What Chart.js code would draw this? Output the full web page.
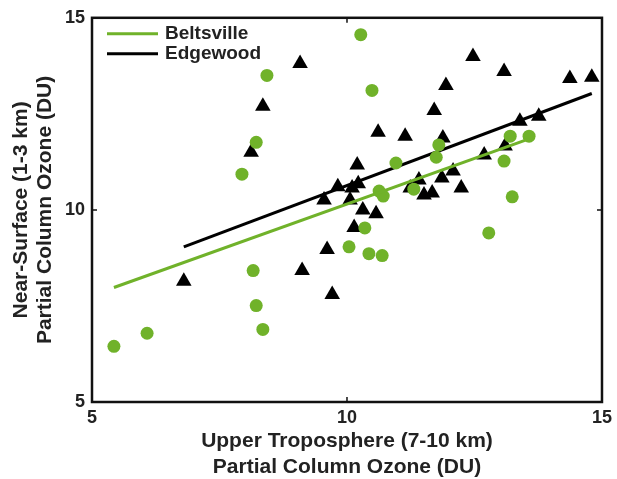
<!DOCTYPE html>
<html lang="en">
<head>
  <meta charset="UTF-8">
  <title>Near-Surface vs Upper Troposphere Ozone</title>
  <script src="https://cdn.jsdelivr.net/npm/chart.js"></script>
  <style>
    html, body { margin: 0; padding: 0; background: #fff; }
    #wrap { width: 617px; height: 479px; }
  </style>
</head>
<body>
  <div id="wrap"><canvas id="ozoneChart" width="617" height="479"></canvas></div>

  <script>
    // Beltsville (green circles)
    const beltsvilleX = [5.43, 6.08, 7.94, 8.22, 8.43, 8.16, 8.22, 8.35, 10.27, 10.49, 10.04, 10.35, 10.43,
      10.69, 10.63, 10.71, 10.96, 11.31, 11.80, 11.75, 13.20, 13.57, 13.08, 13.24, 12.78];
    const beltsvilleY = [6.45, 6.79, 10.93, 11.76, 13.50, 8.42, 7.51, 6.89, 14.56, 13.11, 9.04, 9.53, 8.86,
      8.81, 10.49, 10.36, 11.22, 10.54, 11.69, 11.37, 11.92, 11.92, 11.27, 10.34, 9.40];

    // Edgewood (black triangles)
    const edgewoodX = [6.80, 8.12, 8.35, 9.08, 9.12, 9.61, 9.71, 9.55, 9.82, 10.06, 10.10, 10.22, 10.20,
      10.31, 10.57, 10.14, 10.61, 11.14, 11.41, 11.24, 11.51, 11.67, 11.86, 12.08, 12.24, 11.71, 11.88,
      11.94, 12.47, 13.08, 12.69, 13.10, 13.39, 13.76, 14.37, 14.80];
    const edgewoodY = [8.14, 11.50, 12.70, 13.81, 8.42, 8.97, 7.80, 10.26, 10.60, 10.26, 10.57, 10.68, 11.17,
      10.00, 9.90, 9.54, 12.02, 11.92, 10.78, 10.57, 10.39, 10.44, 10.83, 11.01, 10.57, 12.59, 11.87,
      13.24, 13.99, 13.60, 11.43, 11.66, 12.31, 12.44, 13.42, 13.45];

    // fit lines (end points)
    const beltsvilleFitX = [5.43, 13.57];
    const beltsvilleFitY = [7.98, 11.85];
    const edgewoodFitX = [6.80, 14.80];
    const edgewoodFitY = [9.04, 13.03];

    const tickValues = [5, 10, 15];
    const seriesNames = ['Beltsville', 'Edgewood'];

    const GREEN = '#70b22a';
    const BLACK = '#000000';
    const TEXT = '#222222';
    const FONT = "'Liberation Sans', Arial, Helvetica, sans-serif";

    const toPoints = (xs, ys) => xs.map((x, i) => ({ x: x, y: ys[i] }));

    // frame, inward ticks and the in-plot legend
    const framePlugin = {
      id: 'frame',
      afterDatasetsDraw(chart) {
        const { ctx, chartArea: a, scales } = chart;
        ctx.save();
        ctx.strokeStyle = '#111';
        ctx.lineWidth = 2.5;
        ctx.strokeRect(a.left, a.top, a.right - a.left, a.bottom - a.top);
        ctx.lineWidth = 1.5;
        tickValues.forEach(v => {
          const px = scales.x.getPixelForValue(v);
          const py = scales.y.getPixelForValue(v);
          ctx.beginPath();
          ctx.moveTo(px, a.bottom); ctx.lineTo(px, a.bottom - 5);
          ctx.moveTo(px, a.top); ctx.lineTo(px, a.top + 5);
          ctx.moveTo(a.left, py); ctx.lineTo(a.left + 5, py);
          ctx.moveTo(a.right, py); ctx.lineTo(a.right - 5, py);
          ctx.stroke();
        });

        // legend
        const colors = [GREEN, BLACK];
        ctx.font = 'bold 19px ' + FONT;
        ctx.textBaseline = 'middle';
        ctx.fillStyle = TEXT;
        seriesNames.forEach((name, i) => {
          const y = a.top + 16 + i * 20;
          ctx.strokeStyle = colors[i];
          ctx.lineWidth = 3;
          ctx.beginPath();
          ctx.moveTo(a.left + 15, y);
          ctx.lineTo(a.left + 66, y);
          ctx.stroke();
          ctx.fillText(name, a.left + 73, y);
        });
        ctx.restore();
      }
    };

    const ctx = document.getElementById('ozoneChart').getContext('2d');
    new Chart(ctx, {
      type: 'scatter',
      data: {
        datasets: [
          {
            type: 'line',
            label: 'Beltsville fit',
            data: toPoints(beltsvilleFitX, beltsvilleFitY),
            borderColor: GREEN,
            borderWidth: 3,
            pointRadius: 0,
            fill: false
          },
          {
            label: 'Beltsville',
            data: toPoints(beltsvilleX, beltsvilleY),
            backgroundColor: GREEN,
            borderColor: GREEN,
            borderWidth: 0,
            pointStyle: 'circle',
            pointRadius: 6.5
          },
          {
            type: 'line',
            label: 'Edgewood fit',
            data: toPoints(edgewoodFitX, edgewoodFitY),
            borderColor: BLACK,
            borderWidth: 3,
            pointRadius: 0,
            fill: false
          },
          {
            label: 'Edgewood',
            data: toPoints(edgewoodX, edgewoodY),
            backgroundColor: BLACK,
            borderColor: BLACK,
            borderWidth: 0,
            pointStyle: 'triangle',
            pointRadius: 9
          }
        ]
      },
      options: {
        responsive: false,
        animation: false,
        layout: { padding: { top: 16, right: 15, left: 0, bottom: 0 }, autoPadding: false },
        plugins: {
          legend: { display: false },
          tooltip: { enabled: false }
        },
        scales: {
          x: {
            type: 'linear',
            min: 5,
            max: 15,
            grid: { display: false, drawTicks: false },
            border: { display: false },
            ticks: {
              stepSize: 5,
              padding: 5,
              color: TEXT,
              font: { family: FONT, size: 18, weight: 'bold' }
            },
            title: {
              display: true,
              text: ['Upper Troposphere (7-10 km)', 'Partial Column Ozone (DU)'],
              color: TEXT,
              font: { family: FONT, size: 21, weight: 'bold', lineHeight: 1.24 },
              padding: { top: 0, bottom: -1 }
            },
            afterFit(scale) { scale.height = 77; }
          },
          y: {
            type: 'linear',
            min: 5,
            max: 15,
            grid: { display: false, drawTicks: false },
            border: { display: false },
            ticks: {
              stepSize: 5,
              padding: 7,
              color: TEXT,
              font: { family: FONT, size: 18, weight: 'bold' }
            },
            title: {
              display: true,
              text: ['Near-Surface (1-3 km)', 'Partial Column Ozone (DU)'],
              color: TEXT,
              font: { family: FONT, size: 21, weight: 'bold', lineHeight: 1.14 },
              padding: { top: 9, bottom: 0 }
            },
            afterFit(scale) { scale.width = 92; }
          }
        }
      },
      plugins: [framePlugin]
    });
  </script>
</body>
</html>
